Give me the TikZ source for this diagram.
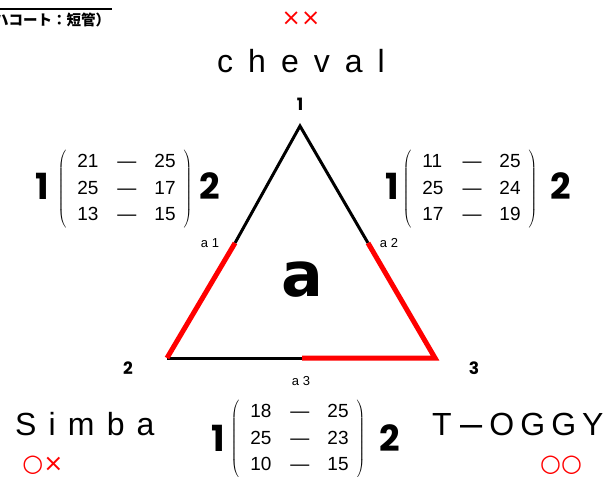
\documentclass[tikz,border=0pt]{standalone}
\usepackage{fontspec}
\usepackage{graphicx}
\setmainfont{Liberation Sans}
\newfontfamily\heavy{Poppins}
\newfontfamily\cjk{Noto Sans CJK JP}
\newfontfamily\symf{DejaVu Sans}
\usepackage{array}
\newcommand\tmat[6]{$\left(\begin{tabular}{@{\hspace{11pt}}l@{\hspace{19pt}}c@{\hspace{18pt}}r@{\hspace{8pt}}}#1 & — & #2\\ #3 & — & #4\\ #5 & — & #6\end{tabular}\right)$}
\tikzset{
  edgeblack/.style={line width=3pt, black, line join=miter},
  edgered/.style={line width=5pt, red, line join=miter},
  vlabel/.style={font=\heavy\bfseries\fontsize{17}{17}\selectfont, inner sep=0pt},
  sidelabel/.style={font=\fontsize{13}{13}\selectfont, inner sep=0pt},
  bigdigit/.style={font=\heavy\bfseries\fontsize{36}{36}\selectfont, inner sep=0pt},
  matnode/.style={font=\fontsize{19}{22}\selectfont, inner sep=0pt},
  namelabel/.style={inner sep=0pt, anchor=base west},
  redmark/.style={text=red, inner sep=0pt, font=\symf\fontsize{24}{24}\selectfont},
}
\renewcommand\arraystretch{1.2}
\begin{document}
\begin{tikzpicture}[x=1pt,y=-1pt]
\clip (0,0) rectangle (607,476);
\fill[white] (0,0) rectangle (607,476);
% title fragments
\coordinate (ul1) at (0,9);
\coordinate (ul2) at (112,9);
\draw[line width=2pt] (ul1) -- (ul2);
\node[anchor=base west, inner sep=0pt, font=\cjk\bfseries\fontsize{14.5}{14.5}\selectfont] (sub) at (-6,26) {ハコート：短管）};
% names
\node[redmark, font=\symf\fontsize{23}{23}\selectfont] (xx) at (301,19) {××};
\node[namelabel, font=\fontsize{32}{32}\selectfont\addfontfeature{LetterSpace=47}] (cheval) at (217,73) {cheval};
\node[namelabel, font=\fontsize{32}{32}\selectfont\addfontfeature{LetterSpace=38}] (simba) at (15,435) {Simba};
\node[namelabel, font=\fontsize{32}{32}\selectfont] (toggy) at (432,435) {T\hspace{8.5pt}\raisebox{-1.5pt}{\scalebox{0.69}[1.2]{—}}\hspace{7pt}{\addfontfeature{LetterSpace=19}OGGY}};
\node[redmark] (ox) at (43,465) {○×};
\node[redmark] (oo) at (561,465) {○○};
% triangle
\coordinate (v1) at (300,126);
\coordinate (v2) at (167,358);
\coordinate (v3) at (435,358);
\coordinate (a1) at (235,243);
\coordinate (a2) at (368,243);
\coordinate (a3) at (302,358);
\draw[edgeblack] (a1) -- (v1) -- (a2);
\draw[edgeblack] (v2) -- (a3);
\draw[edgered] (a1) -- (v2);
\draw[edgered] (a2) -- (v3) -- (a3);
\node[vlabel] (l1) at (300,104) {1};
\node[vlabel] (l2) at (128,368) {2};
\node[vlabel] (l3) at (474,368) {3};
\node[sidelabel] (la1) at (210,243) {a 1};
\node[sidelabel] (la2) at (389,243) {a 2};
\node[sidelabel] (la3) at (301,381) {a 3};
\node[inner sep=0pt, font=\symf\bfseries\fontsize{62}{62}\selectfont] (center) at (302,280) {a};
% matrices
\node[matnode] (m1) at (125,189) {\tmat{21}{25}{25}{17}{13}{15}};
\node[bigdigit] (m1l) at (42,186) {1};
\node[bigdigit] (m1r) at (210,186) {2};
\node[matnode] (m2) at (470,189) {\tmat{11}{25}{25}{24}{17}{19}};
\node[bigdigit] (m2l) at (392,186) {1};
\node[bigdigit] (m2r) at (561,186) {2};
\node[matnode] (m3) at (298,439) {\tmat{18}{25}{25}{23}{10}{15}};
\node[bigdigit] (m3l) at (218,438) {1};
\node[bigdigit] (m3r) at (390,438) {2};
\end{tikzpicture}
\end{document}
